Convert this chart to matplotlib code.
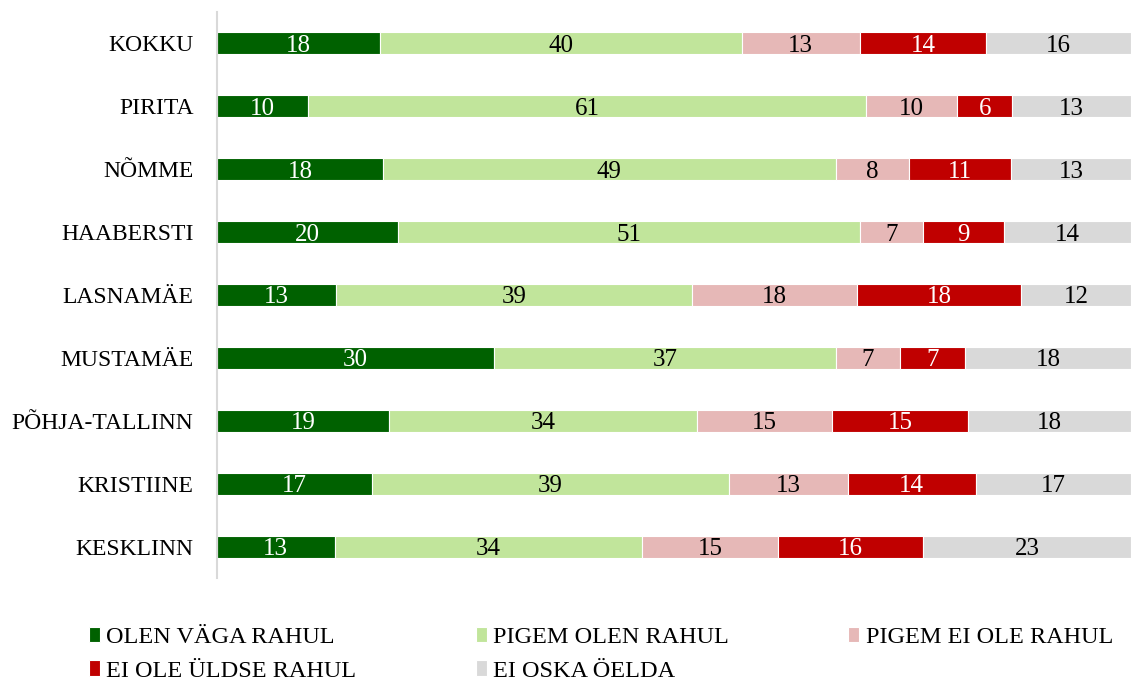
import numpy as np
import matplotlib
matplotlib.use("Agg")
import matplotlib.pyplot as plt

plt.rcParams['font.family'] = ['Liberation Serif', 'DejaVu Serif']

# === Data ===
districts = ["KOKKU", "PIRITA", "NÕMME", "HAABERSTI", "LASNAMÄE", "MUSTAMÄE",
             "PÕHJA-TALLINN", "KRISTIINE", "KESKLINN"]
series_names = ["OLEN VÄGA RAHUL", "PIGEM OLEN RAHUL", "PIGEM EI OLE RAHUL",
                "EI OLE ÜLDSE RAHUL", "EI OSKA ÖELDA"]
vaga_rahul = [18, 10, 18, 20, 13, 30, 19, 17, 13]
pigem_rahul = [40, 61, 49, 51, 39, 37, 34, 39, 34]
pigem_ei_rahul = [13, 10, 8, 7, 18, 7, 15, 13, 15]
ei_ylldse_rahul = [14, 6, 11, 9, 18, 7, 15, 14, 16]
ei_oska = [16, 13, 13, 14, 12, 18, 18, 17, 23]

colors = ["#006100", "#C1E59B", "#E6B8B7", "#C00000", "#D9D9D9"]
text_colors = ["white", "black", "black", "white", "black"]

values = np.array([vaga_rahul, pigem_rahul, pigem_ei_rahul, ei_ylldse_rahul, ei_oska], dtype=float)
shares = values / values.sum(axis=0) * 100  # 100% stacked

fig = plt.figure(figsize=(11.32, 6.84), dpi=100)
ax = fig.add_axes([0.1917, 0.155, 0.8075, 0.8275])

y = np.arange(len(districts))
left = np.zeros(len(districts))
handles = []
for i, name in enumerate(series_names):
    bars = ax.barh(y, shares[i], left=left, height=0.35, color=colors[i],
                   edgecolor="white", linewidth=0.8, label=name)
    labels = ax.bar_label(bars, labels=[f"{int(v)}" for v in values[i]], label_type="center",
                          color=text_colors[i], fontsize=18)
    for t in labels:
        t.set_va("center_baseline")
    handles.append(bars)
    left += shares[i]

ax.set_xlim(0, 100)
ax.set_ylim(len(districts) - 0.5, -0.5)
ax.set_yticks(y)
ax.set_yticklabels(districts, fontsize=17)
ax.tick_params(axis="y", length=0, pad=17)
ax.set_xticks([])
for s in ["top", "right", "bottom"]:
    ax.spines[s].set_visible(False)
ax.spines["left"].set_color("#D9D9D9")
ax.spines["left"].set_linewidth(1.5)

# legend in row order (matplotlib fills column-first)
order = [0, 3, 1, 4, 2]
fig.legend([handles[k] for k in order], [series_names[k] for k in order],
           ncol=3, mode="expand", loc="lower left",
           bbox_to_anchor=(0.066, -0.018, 0.93, 0.1),
           frameon=False, fontsize=17.5, handlelength=0.45, handleheight=0.6,
           handletextpad=0.25, labelspacing=0.5, borderaxespad=0.2)

plt.savefig("out.png", dpi=100)
